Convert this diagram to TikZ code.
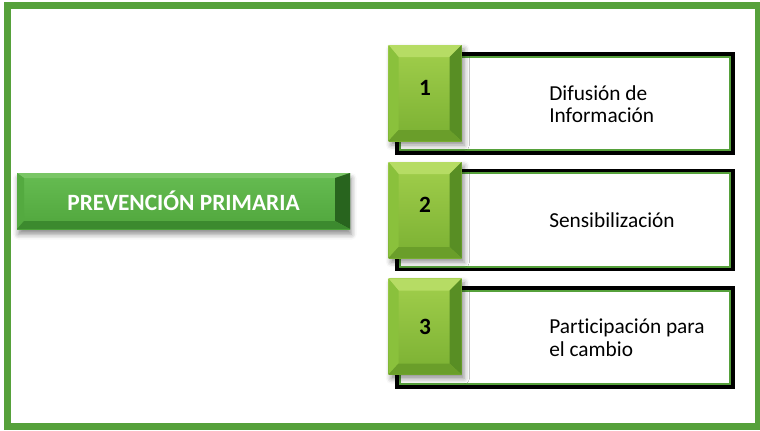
\documentclass[tikz,border=0pt]{standalone}
\usepackage{fontspec}
\setmainfont{Carlito}[Ligatures=NoCommon]
\usetikzlibrary{shadows.blur}

\definecolor{framegreen}{RGB}{86,161,59}
\definecolor{headtop}{RGB}{102,188,82}
\definecolor{headbot}{RGB}{80,166,60}
\definecolor{headT}{RGB}{122,198,102}
\definecolor{headL}{RGB}{84,170,64}
\definecolor{headR}{RGB}{40,100,30}
\definecolor{headB}{RGB}{60,138,46}
\definecolor{numtop}{RGB}{162,207,76}
\definecolor{numbot}{RGB}{122,176,50}
\definecolor{numT}{RGB}{182,220,100}
\definecolor{numL}{RGB}{138,193,60}
\definecolor{numR}{RGB}{88,142,36}
\definecolor{numB}{RGB}{106,158,42}

\tikzset{
    outerframe/.style={draw=framegreen, line width=5.25pt},
    bevel/.style n args={5}{path picture={
        \fill[#5T] (path picture bounding box.north west) -- (path picture bounding box.north east) -- ([shift={(-#3,#2)}]path picture bounding box.north east) -- ([shift={(#1,#2)}]path picture bounding box.north west) -- cycle;
        \fill[#5L] (path picture bounding box.north west) -- ([shift={(#1,#2)}]path picture bounding box.north west) -- ([shift={(#1,-#4)}]path picture bounding box.south west) -- (path picture bounding box.south west) -- cycle;
        \fill[#5R] (path picture bounding box.north east) -- ([shift={(-#3,#2)}]path picture bounding box.north east) -- ([shift={(-#3,-#4)}]path picture bounding box.south east) -- (path picture bounding box.south east) -- cycle;
        \fill[#5B] (path picture bounding box.south west) -- ([shift={(#1,-#4)}]path picture bounding box.south west) -- ([shift={(-#3,-#4)}]path picture bounding box.south east) -- (path picture bounding box.south east) -- cycle;
    }},
    headbox/.style={minimum width=249.75pt, minimum height=42pt, inner sep=0pt,
        top color=headtop, bottom color=headbot, bevel={7}{5}{15}{8}{head},
        blur shadow={shadow xshift=1pt, shadow yshift=-4pt, shadow blur radius=4pt, shadow opacity=45},
        text=white, font=\bfseries\fontsize{17.5}{19}\selectfont},
    numbox/.style={minimum width=54.75pt, minimum height=72pt, inner sep=0pt, text depth=7pt,
        top color=numtop, bottom color=numbot, bevel={10}{12}{12}{11}{num},
        blur shadow={shadow xshift=2pt, shadow yshift=-3pt, shadow blur radius=4pt, shadow opacity=45},
        font=\bfseries\fontsize{17.5}{19}\selectfont},
    infobox/.style={draw=black, line width=2.5pt, fill=white, minimum width=252pt, minimum height=74.25pt,
        path picture={\draw[framegreen, line width=5.5pt] (path picture bounding box.north west) rectangle (path picture bounding box.south east);}},
    infotext/.style={anchor=west, align=left, inner sep=0pt, font=\fontsize{16}{17}\selectfont}
}

\begin{document}
\begin{tikzpicture}[x=0.75pt, y=-0.75pt]
    \useasboundingbox (0,0) rectangle (760,430);
    \draw[outerframe] (7,5) rectangle (758,426);

    \node[infobox] (b1) at (565,103.5) {};
    \node[infobox] (b2) at (565,220) {};
    \node[infobox] (b3) at (565,337.5) {};

    \node[infotext] (t1) at (549,104) {Difusión de\\Información};
    \node[infotext] (t2) at (549,220) {Sensibilización};
    \node[infotext] (t3) at (549,338) {Participación para\\el cambio};

    \node[numbox] (n1) at (425,93) {1};
    \node[numbox] (n2) at (425,210) {2};
    \node[numbox, text depth=0pt] (n3) at (425,326.5) {3};

    \node[headbox] (head) at (183.5,201) {PREVENCIÓN PRIMARIA};
\end{tikzpicture}
\end{document}
